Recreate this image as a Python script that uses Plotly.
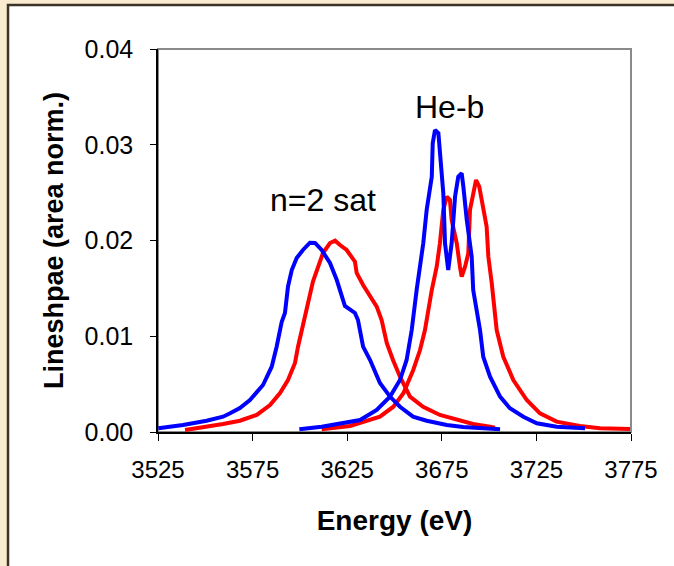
import plotly.graph_objects as go

# Line-shape profiles (area normalised), energies in eV
sat_blue_e = [3525.2, 3538.2, 3550.7, 3559.4, 3563.1, 3568.3, 3573.6, 3580.5, 3585.1, 3587.7,
              3590.4, 3592.1, 3593.7, 3595.7, 3598.3, 3601.6, 3605.3, 3608.0, 3611.5, 3615.9,
              3619.5, 3622.1, 3623.8, 3629.1, 3630.7, 3633.4, 3637.1, 3642.3, 3647.6, 3652.9,
              3659.8, 3667.0, 3677.6, 3686.2, 3695.2, 3705.8]
sat_blue_v = [0.00039, 0.00073, 0.00118, 0.00160, 0.00195, 0.00250, 0.00334, 0.00491, 0.00682, 0.00891,
              0.01152, 0.01243, 0.01518, 0.01692, 0.01817, 0.01901, 0.01977, 0.01974, 0.01901, 0.01765,
              0.01587, 0.01413, 0.01316, 0.01243, 0.01170, 0.00891, 0.00752, 0.00512, 0.00370, 0.00264,
              0.00160, 0.00118, 0.00073, 0.00052, 0.00039, 0.00030]

sat_red_e = [3539.3, 3547.2, 3559.4, 3568.3, 3577.2, 3584.2, 3589.5, 3593.7, 3597.4, 3599.0,
             3601.6, 3604.3, 3606.9, 3609.6, 3612.2, 3615.9, 3618.6, 3621.2, 3624.7, 3629.1,
             3630.0, 3633.4, 3637.1, 3640.6, 3643.2, 3645.9, 3649.2, 3652.9, 3658.2, 3665.1,
             3674.0, 3682.9, 3691.5, 3700.5, 3703.1]
sat_red_v = [0.00021, 0.00042, 0.00084, 0.00118, 0.00178, 0.00282, 0.00407, 0.00543, 0.00721, 0.00891,
             0.01100, 0.01347, 0.01570, 0.01726, 0.01869, 0.01974, 0.01998, 0.01953, 0.01901, 0.01779,
             0.01661, 0.01535, 0.01413, 0.01309, 0.01170, 0.00930, 0.00752, 0.00577, 0.00369, 0.00264,
             0.00178, 0.00125, 0.00084, 0.00055, 0.00045]

heb_blue_e = [3599.7, 3611.5, 3631.8, 3640.6, 3647.6, 3652.9, 3656.4, 3659.1, 3661.7, 3665.2,
              3667.0, 3669.7, 3670.2, 3671.4, 3673.2, 3674.0, 3674.9, 3675.8, 3676.7, 3677.6,
              3678.4, 3680.2, 3682.0, 3683.7, 3685.5, 3686.4, 3688.2, 3690.8, 3691.6, 3695.2,
              3696.9, 3700.5, 3705.8, 3711.0, 3718.1, 3725.2, 3735.7, 3750.7]
heb_blue_v = [0.00028, 0.00055, 0.00125, 0.00230, 0.00369, 0.00543, 0.00752, 0.01065, 0.01483, 0.01971,
              0.02319, 0.02666, 0.03015, 0.03154, 0.03120, 0.02911, 0.02736, 0.02493, 0.01971, 0.01831,
              0.01692, 0.01971, 0.02457, 0.02666, 0.02702, 0.02562, 0.02214, 0.01831, 0.01483, 0.01065,
              0.00786, 0.00578, 0.00369, 0.00248, 0.00160, 0.00091, 0.00055, 0.00039]

heb_red_e = [3611.5, 3626.5, 3642.3, 3649.4, 3654.7, 3659.9, 3663.5, 3666.1, 3669.7, 3672.3,
             3674.0, 3675.8, 3677.6, 3679.3, 3680.2, 3682.9, 3684.6, 3685.5, 3687.3, 3689.0,
             3689.9, 3691.6, 3693.1, 3694.8, 3696.9, 3698.7, 3699.6, 3701.4, 3704.0, 3707.5,
             3712.8, 3719.9, 3726.9, 3735.7, 3748.0, 3758.6, 3774.5]
heb_red_v = [0.00028, 0.00063, 0.00160, 0.00264, 0.00404, 0.00648, 0.00856, 0.01065, 0.01483, 0.01726,
             0.01971, 0.02319, 0.02457, 0.02423, 0.02214, 0.01971, 0.01726, 0.01622, 0.01726, 0.01866,
             0.02319, 0.02493, 0.02632, 0.02562, 0.02353, 0.02144, 0.01831, 0.01553, 0.01065, 0.00786,
             0.00543, 0.00334, 0.00195, 0.00108, 0.00063, 0.00039, 0.00031]

x_ticks = [3525, 3575, 3625, 3675, 3725, 3775]
y_ticks = [0.00, 0.01, 0.02, 0.03, 0.04]

RED = "#ff0000"
BLUE = "#0000ff"
FONT = "Liberation Sans, Arial, sans-serif"

fig = go.Figure()
for e, v, c in [(sat_red_e, sat_red_v, RED), (heb_red_e, heb_red_v, RED),
                (sat_blue_e, sat_blue_v, BLUE), (heb_blue_e, heb_blue_v, BLUE)]:
    fig.add_trace(go.Scatter(x=e, y=v, mode="lines", line=dict(color=c, width=4),
                             showlegend=False, hoverinfo="skip"))

# white slide panel with dark frame, and grey plot frame
fig.add_shape(type="rect", xref="paper", yref="paper",
              x0=-0.3171, x1=1.12, y0=-0.40, y1=1.1149,
              fillcolor="white", line=dict(color="#3b3325", width=2.5), layer="below")
fig.add_shape(type="rect", xref="paper", yref="paper", x0=0, x1=1, y0=0, y1=1,
              line=dict(color="#8a8a8a", width=2), layer="below")

fig.add_annotation(x=3679.3, y=0.0339, text="He-b", showarrow=False,
                   font=dict(family=FONT, size=32, color="black"))
fig.add_annotation(x=3612.2, y=0.0242, text="n=2 sat", showarrow=False,
                   font=dict(family=FONT, size=32, color="black"))

fig.update_layout(
    width=674, height=566,
    margin=dict(l=158, r=43, t=49, b=134),
    paper_bgcolor="#f8ebcf",
    plot_bgcolor="white",
    font=dict(family=FONT, color="black"),
    xaxis=dict(range=[3525, 3775], tickvals=x_ticks, ticktext=[str(t) for t in x_ticks],
               ticks="outside", ticklen=7, tickcolor="black", showline=True,
               linecolor="black", linewidth=1.5, showgrid=False, zeroline=False,
               tickfont=dict(size=24), ticklabelstandoff=8,
               title=dict(text="<b>Energy (eV)</b>", font=dict(size=28), standoff=29)),
    yaxis=dict(range=[0, 0.04], tickvals=y_ticks, ticktext=[f"{t:.2f}" for t in y_ticks],
               ticks="outside", ticklen=6, tickcolor="black", showline=True,
               linecolor="black", linewidth=1.5, showgrid=False, zeroline=False,
               tickfont=dict(size=25), ticklabelstandoff=12,
               title=dict(text="<b>Lineshpae (area norm.)</b>", font=dict(size=27), standoff=13)),
)

fig.write_html("out.html")
